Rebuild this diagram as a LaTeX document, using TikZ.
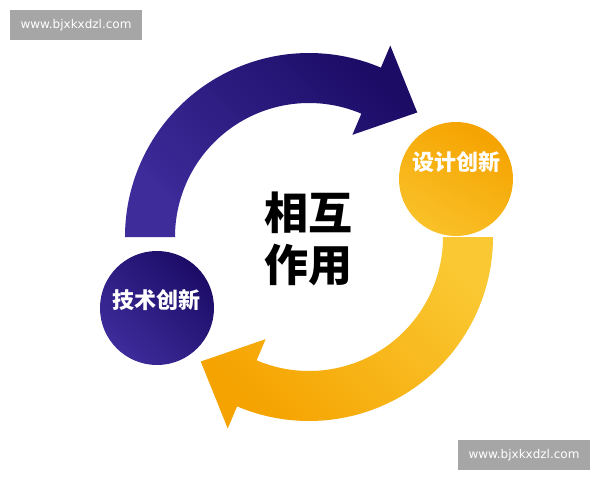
\documentclass[tikz,border=0pt]{standalone}
\usepackage{fontspec}
\newfontfamily\cjk{Noto Sans CJK SC}
\newfontfamily\wmfont{DejaVu Sans}
\usetikzlibrary{positioning}

\definecolor{navydark}{HTML}{1C0C66}
\definecolor{navylight}{HTML}{3D2C9A}
\definecolor{golddeep}{HTML}{F5A300}
\definecolor{goldlight}{HTML}{FAC832}
\definecolor{wmgray}{HTML}{A6A6A6}

\begin{document}
\begin{tikzpicture}[x=1pt, y=1pt,
    ball/.style={circle, minimum size=114pt, inner sep=0pt},
    balltext/.style={text=white, font=\cjk\bfseries\fontsize{22}{24}\selectfont},
    wmark/.style={fill=wmgray, text=white, minimum width=132pt, minimum height=30pt,
        inner sep=0pt, font=\wmfont\fontsize{12}{14}\selectfont}]

% --- Canvas ---
\fill[white] (-309,-243) rectangle (291,237);
\useasboundingbox (-309,-243) rectangle (291,237);

% --- Blue arrow (upper arc) ---
\shade[top color=navydark, bottom color=navylight, shading angle=-45]
    (180:184) arc[start angle=180, end angle=67, radius=184]
    -- (67:208) -- (49:165) -- (67:111) -- (67:134)
    arc[start angle=67, end angle=180, radius=134] -- cycle;

% --- Gold arrow (lower arc) ---
\shade[top color=goldlight, bottom color=golddeep, shading angle=-45]
    (0:184) arc[start angle=0, end angle=-113, radius=184]
    -- (-113:208) -- (-131:165) -- (-113:111) -- (-113:134)
    arc[start angle=-113, end angle=0, radius=134] -- cycle;

% --- Centre text ---
\node[font=\cjk\bfseries\fontsize{44}{52}\selectfont, align=center] (xianghu) at (0,-2) {相互\\作用};

% --- Circles ---
\node[ball, top color=navydark, bottom color=navylight, shading angle=-45] (jishu) at (-152,-71) {};
\node[balltext] (jishutext) at ([yshift=8pt]jishu.center) {技术创新};

\node[ball, top color=golddeep, bottom color=goldlight!80!golddeep, shading angle=-30] (sheji) at (147,58) {};
\node[balltext] (shejitext) at ([yshift=17pt]sheji.center) {设计创新};

% --- Watermarks ---
\node[wmark] (wmtop) at (-233,212) {www.bjxkxdzl.com};
\node[wmark] (wmbottom) at (215,-218) {www.bjxkxdzl.com};

\end{tikzpicture}
\end{document}
